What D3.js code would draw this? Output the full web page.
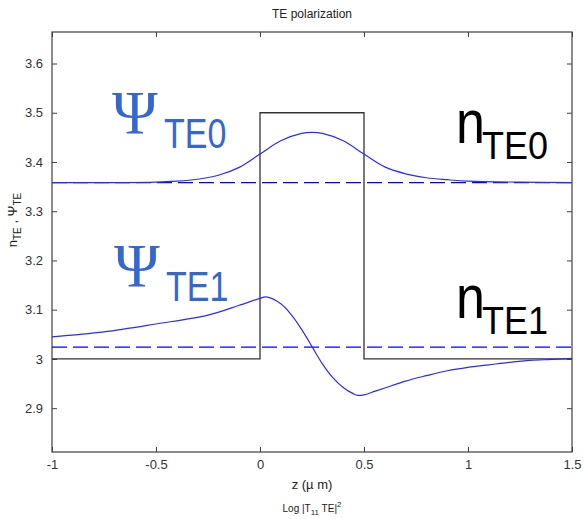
<!DOCTYPE html>
<html>
<head>
<meta charset="utf-8">
<script src="https://cdn.jsdelivr.net/npm/d3@7"></script>
<style>
  body { margin: 0; background: #fff; }
  svg { font-family: Arial, "Liberation Sans", sans-serif; }
</style>
</head>
<body>
<div id="Area"></div>
<script>
// waveguide index profile (z in um)
let profileZ = [-1, 0, 0, 0.5, 0.5, 1.5];
let profileN = [3, 3, 3.5, 3.5, 3, 3];

// effective indices (dashed lines)
let nTE0 = 3.358;
let nTE1 = 3.024;

// mode profiles
let te0Z = [-1, -0.75, -0.5, -0.4, -0.3, -0.2, -0.1, 0, 0.1, 0.2, 0.25, 0.3, 0.4, 0.5, 0.6, 0.7, 0.8, 0.9, 1.0, 1.25, 1.5];
let te0Psi = [3.358, 3.358, 3.359, 3.361, 3.365, 3.373, 3.389, 3.416, 3.443, 3.458, 3.460, 3.458, 3.443, 3.416, 3.390, 3.376, 3.368, 3.364, 3.361, 3.359, 3.358];

let te1Z = [-1, -0.75, -0.5, -0.25, -0.1, 0, 0.03, 0.1, 0.15, 0.2, 0.25, 0.3, 0.35, 0.4, 0.45, 0.47, 0.5, 0.55, 0.6, 0.7, 0.8, 0.9, 1.0, 1.1, 1.2, 1.3, 1.4, 1.5];
let te1Psi = [3.045, 3.055, 3.071, 3.089, 3.109, 3.123, 3.126, 3.112, 3.090, 3.060, 3.025, 2.990, 2.962, 2.942, 2.929, 2.926, 2.927, 2.934, 2.941, 2.955, 2.966, 2.976, 2.983, 2.988, 2.993, 2.997, 2.999, 3.001];

let xTicks = [-1, -0.5, 0, 0.5, 1, 1.5];
let yTicks = [2.9, 3, 3.1, 3.2, 3.3, 3.4, 3.5, 3.6];

drawChart();

function drawChart(){
    var margin = {top: 32, right: 14, bottom: 67, left: 52},
    width = 586 - margin.left - margin.right,
    height = 519 - margin.top - margin.bottom;

    var svg = d3.select("#Area")
    .append("svg")
    .attr("width", 586)
    .attr("height", 519);

    var g = svg.append("g")
    .attr("transform", "translate(" + margin.left + "," + margin.top + ")");

    var x = d3.scaleLinear().domain([-1, 1.5]).range([0, width]);
    var y = d3.scaleLinear().domain([2.811, 3.664]).range([height, 0]);

    var axisColor = "#404040";

    // axes with inward ticks on all four sides
    var fmt = d => String(+d.toFixed(1));
    var bottom = g.append("g").attr("transform", "translate(0," + height + ")")
    .call(d3.axisBottom(x).tickValues(xTicks).tickFormat(fmt).tickSizeInner(-5).tickSizeOuter(0).tickPadding(8));
    var top = g.append("g")
    .call(d3.axisTop(x).tickValues(xTicks).tickFormat("").tickSizeInner(-5).tickSizeOuter(0));
    var left = g.append("g")
    .call(d3.axisLeft(y).tickValues(yTicks).tickFormat(fmt).tickSizeInner(-5).tickSizeOuter(0).tickPadding(9));
    var right = g.append("g").attr("transform", "translate(" + width + ",0)")
    .call(d3.axisRight(y).tickValues(yTicks).tickFormat("").tickSizeInner(-5).tickSizeOuter(0));

    [bottom, top, left, right].forEach(a => {
        a.select(".domain").remove();
        a.selectAll("line").attr("stroke", axisColor);
        a.selectAll("text").attr("fill", "#333").style("font-size", "13px").style("font-family", "Arial, 'Liberation Sans', sans-serif");
    });

    // frame
    g.append("rect")
    .attr("width", width).attr("height", height)
    .attr("fill", "none").attr("stroke", axisColor).attr("stroke-width", 1.2);

    var plot = g.append("g");

    // index profile
    var stepLine = d3.line().x(d => x(d[0])).y(d => y(d[1]));
    plot.append("path")
    .datum(d3.zip(profileZ, profileN))
    .attr("d", stepLine)
    .attr("fill", "none").attr("stroke", "#333").attr("stroke-width", 1.3);

    // effective index lines
    [nTE0, nTE1].forEach(n => {
        plot.append("line")
        .attr("x1", x(-1)).attr("x2", x(1.5))
        .attr("y1", y(n)).attr("y2", y(n))
        .attr("stroke", "#0000ff").attr("stroke-width", 1.2)
        .attr("stroke-dasharray", "15,6");
    });

    // mode profiles
    var curve = d3.line().x(d => x(d[0])).y(d => y(d[1])).curve(d3.curveCatmullRom);
    [[te0Z, te0Psi], [te1Z, te1Psi]].forEach(s => {
        plot.append("path")
        .datum(d3.zip(s[0], s[1]))
        .attr("d", curve)
        .attr("fill", "none").attr("stroke", "#2a2aff").attr("stroke-width", 1.2);
    });

    // annotations
    var psiColor = "#3567cf";
    function psiLabel(px, py, sub){
        var t = svg.append("g").attr("transform", "translate(" + px + "," + py + ")");
        t.append("text").attr("x", 0).attr("y", 0)
        .attr("font-family", "'Liberation Serif', 'DejaVu Serif', serif")
        .attr("font-size", 62).attr("fill", psiColor).text("Ψ");
        t.append("text").attr("transform", "translate(52,15) scale(1,1.27)")
        .attr("font-size", 34).attr("fill", psiColor).text(sub);
    }
    psiLabel(112, 133, "TE0");
    psiLabel(114, 286, "TE1");

    function nLabel(px, py, sub){
        var t = svg.append("g").attr("transform", "translate(" + px + "," + py + ")");
        t.append("text").attr("transform", "scale(1,1.17)")
        .attr("font-size", 52).attr("fill", "#000").text("n");
        t.append("text").attr("transform", "translate(26,16) scale(1,1.1)")
        .attr("font-size", 36).attr("fill", "#000").text(sub);
    }
    nLabel(456, 143, "TE0");
    nLabel(456, 318, "TE1");

    // titles
    svg.append("text").attr("x", 312).attr("y", 18).attr("text-anchor", "middle")
    .attr("font-size", 12).attr("fill", "#222").text("TE polarization");

    svg.append("text").attr("x", 312).attr("y", 489).attr("text-anchor", "middle")
    .attr("font-size", 13).attr("fill", "#222").text("z (µ m)");

    var logT = svg.append("text").attr("x", 312).attr("y", 512).attr("text-anchor", "middle")
    .attr("font-size", 10).attr("fill", "#222");
    logT.append("tspan").text("Log |T");
    logT.append("tspan").attr("dy", 3).attr("font-size", 8).text("11");
    logT.append("tspan").attr("dy", -3).text(" TE|");
    logT.append("tspan").attr("dy", -5).attr("font-size", 8).text("2");

    var yl = svg.append("text").attr("transform", "translate(17,220) rotate(-90)")
    .attr("text-anchor", "middle").attr("font-size", 13).attr("fill", "#222");
    yl.append("tspan").text("n");
    yl.append("tspan").attr("dy", 4).attr("font-size", 10).text("TE");
    yl.append("tspan").attr("dy", -4).text(" , ");
    yl.append("tspan").text("Ψ");
    yl.append("tspan").attr("dy", 4).attr("font-size", 10).text("TE");
}
</script>
</body>
</html>
